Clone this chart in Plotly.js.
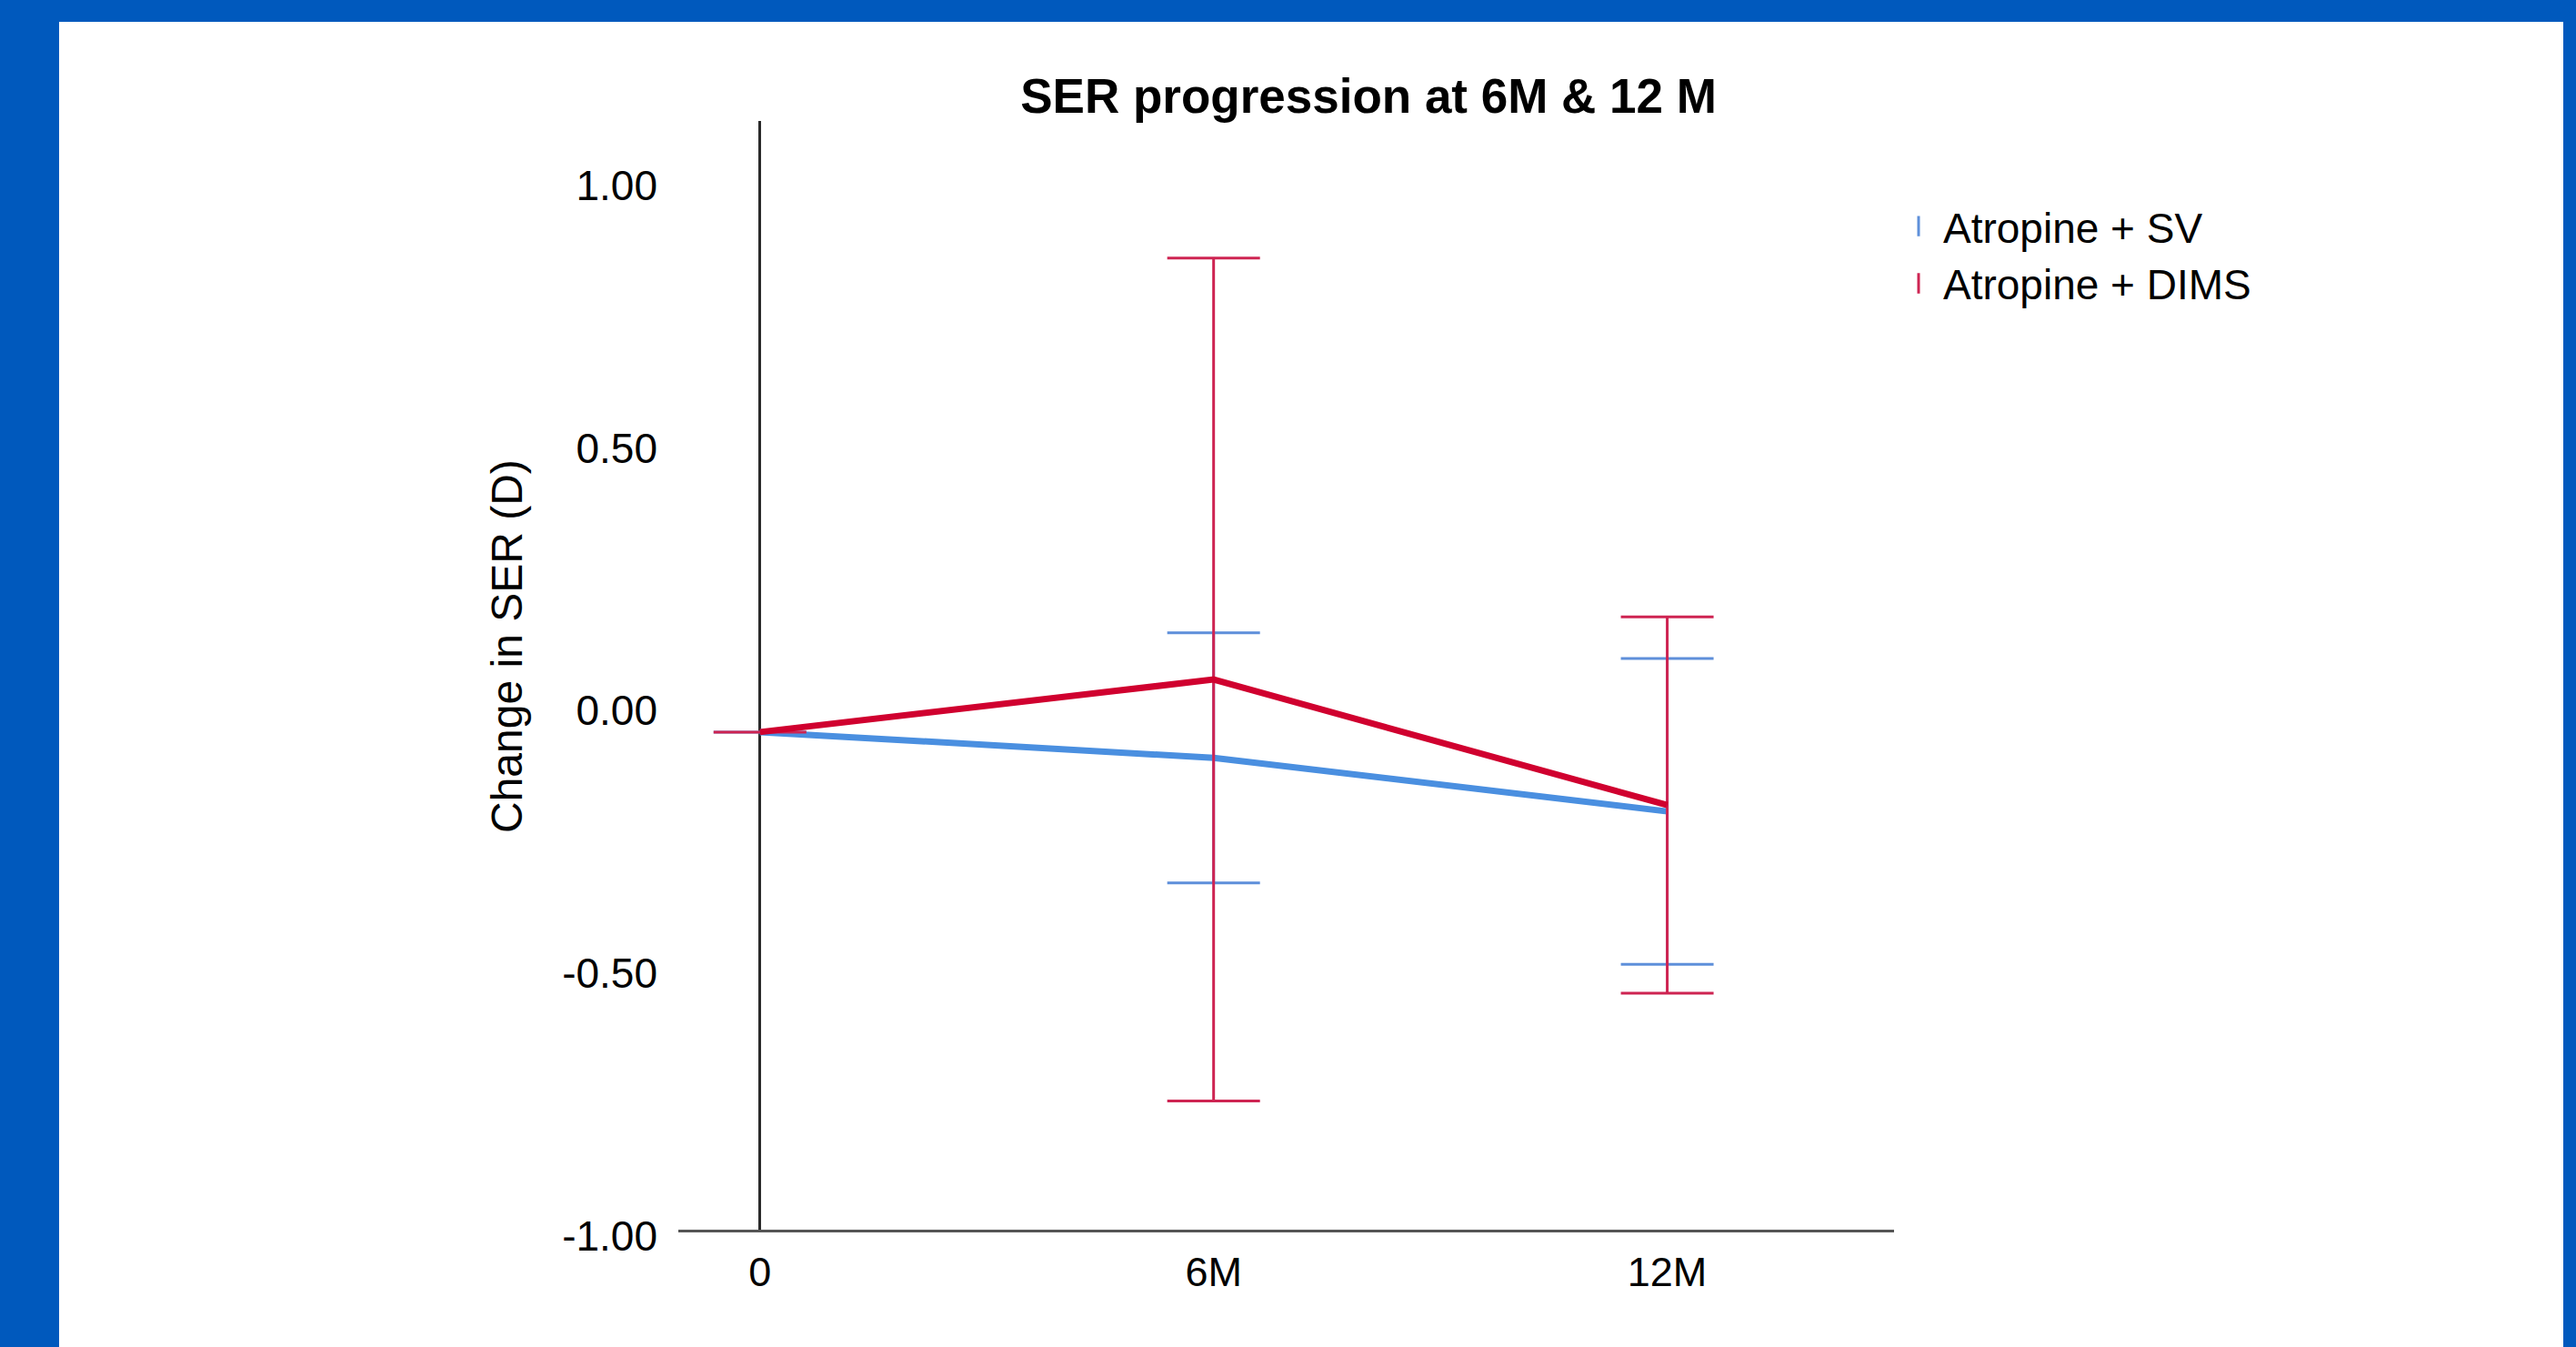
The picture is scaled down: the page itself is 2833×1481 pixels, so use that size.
<!DOCTYPE html>
<html>
<head>
<meta charset="utf-8">
<script src="https://cdn.plot.ly/plotly-3.0.1.min.js"></script>
<style>
  html, body { margin: 0; padding: 0; background: #0059BD; width: 2833px; height: 1481px; overflow: hidden; }
  #chart { position: absolute; left: 65px; top: 24px; width: 2754px; height: 1457px; background: #ffffff; }
</style>
</head>
<body>
<div id="chart"></div>
<script>
// ---- data ----
const timepoints = ['0', '6M', '12M'];
const seriesNames = ['Atropine + SV', 'Atropine + DIMS'];
const svMean = [-0.053, -0.102, -0.204];
const svErr = [0, 0.238, 0.291];
const dimsMean = [-0.053, 0.047, -0.192];
const dimsErr = [0, 0.802, 0.358];
const yTickVals = [-1.0, -0.5, 0.0, 0.5, 1.0];
const yTickText = ['-1.00', '-0.50', '0.00', '0.50', '1.00'];
const yTitle = 'Change in SER (D)';
const chartTitle = 'SER progression at 6M &amp; 12 M';

const xPos = timepoints.map((t, i) => i);
const font = 'Liberation Sans, Arial, sans-serif';
const blue = '#4A8FE0', blueErr = '#5E8FDA';
const red = '#D0002F', redErr = '#CE2452';

const traces = [
  {
    x: xPos, y: svMean, type: 'scatter', mode: 'lines', name: seriesNames[0],
    line: { color: blue, width: 7 }, showlegend: false,
    error_y: { type: 'data', array: svErr, visible: true, color: blueErr, thickness: 3, width: 51 }
  },
  {
    x: xPos, y: dimsMean, type: 'scatter', mode: 'lines', name: seriesNames[1],
    line: { color: red, width: 7 }, showlegend: false,
    error_y: { type: 'data', array: dimsErr, visible: true, color: redErr, thickness: 3, width: 51 }
  },
  {
    x: [null], y: [null], type: 'scatter', mode: 'markers', name: seriesNames[0],
    marker: { symbol: 'line-ns-open', size: 16, color: blueErr, line: { color: blueErr, width: 3 } }
  },
  {
    x: [null], y: [null], type: 'scatter', mode: 'markers', name: seriesNames[1],
    marker: { symbol: 'line-ns-open', size: 16, color: redErr, line: { color: redErr, width: 3 } }
  }
];

const layout = {
  width: 2754, height: 1457,
  paper_bgcolor: '#ffffff', plot_bgcolor: '#ffffff',
  margin: { l: 681, r: 736, t: 109, b: 129, pad: 0 },
  font: { family: font, size: 45, color: '#000000' },
  title: {
    text: '<b>' + chartTitle + '</b>',
    font: { family: font, size: 53, color: '#000000' },
    xref: 'container', yref: 'container', x: 0.5229, y: 0.9444, xanchor: 'center', yanchor: 'middle'
  },
  xaxis: {
    type: 'linear', range: [-0.18, 2.5],
    tickvals: xPos, ticktext: timepoints, ticks: '',
    showgrid: false, zeroline: true, zerolinecolor: '#2a2a2a', zerolinewidth: 3,
    showline: true, linecolor: '#555555', linewidth: 3,
    tickfont: { family: font, size: 45, color: '#000000' },
    ticklabelstandoff: 5, fixedrange: true
  },
  yaxis: {
    range: [-1.0, 1.11],
    tickvals: yTickVals, ticktext: yTickText, ticks: '',
    showgrid: false, zeroline: false, showline: false,
    tickfont: { family: font, size: 46, color: '#000000' },
    ticklabelstandoff: 22, ticklabelshift: 7,
    fixedrange: true
  },
  annotations: [
    {
      text: yTitle, textangle: -90, showarrow: false,
      xref: 'paper', yref: 'paper',
      x: (557 - 746) / 1337, y: (1352 - 711) / 1219,
      xanchor: 'center', yanchor: 'middle',
      font: { family: font, size: 48, color: '#000000' }
    }
  ],
  showlegend: true,
  legend: {
    x: 1.0, y: 0.935, xanchor: 'left', yanchor: 'top',
    font: { family: font, size: 46, color: '#000000' },
    bgcolor: 'rgba(0,0,0,0)', borderwidth: 0, tracegroupgap: 0, itemwidth: 44
  }
};

Plotly.newPlot('chart', traces, layout, { staticPlot: true, displayModeBar: false });
</script>
</body>
</html>
